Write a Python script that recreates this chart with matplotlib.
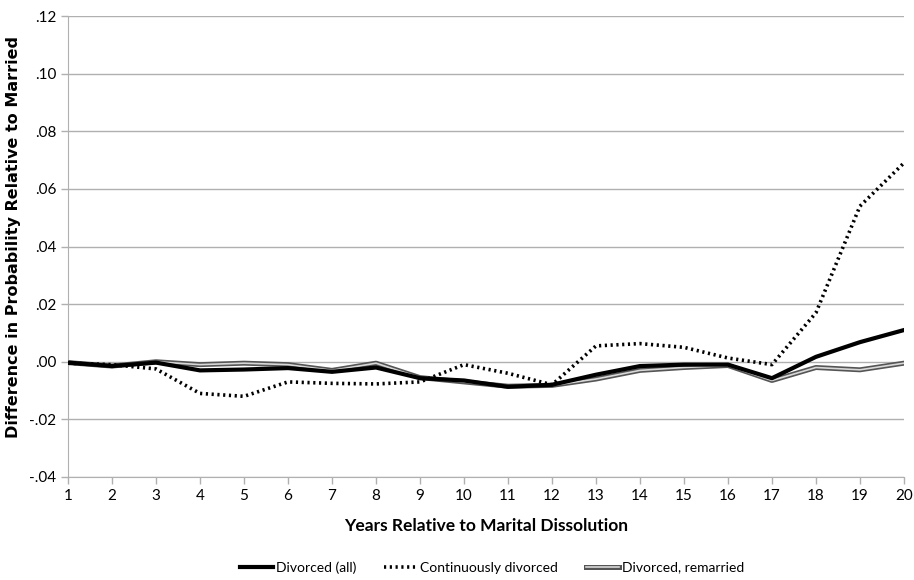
import matplotlib.pyplot as plt
from matplotlib.lines import Line2D

years = list(range(1, 21))

divorced_all = [-0.0003, -0.0015, -0.0003, -0.0030, -0.0027, -0.0022, -0.0035, -0.0020, -0.0057, -0.0065,
                -0.0087, -0.0080, -0.0045, -0.0015, -0.0010, -0.0010, -0.0057, 0.0017, 0.0068, 0.0110]
continuously = [-0.0005, -0.0010, -0.0025, -0.0110, -0.0120, -0.0070, -0.0075, -0.0077, -0.0070, -0.0010,
                -0.0040, -0.0080, 0.0055, 0.0063, 0.0050, 0.0013, -0.0010, 0.0170, 0.0540, 0.0690]
remarried = [-0.0003, -0.0015, 0.0000, -0.0010, -0.0005, -0.0010, -0.0030, -0.0005, -0.0055, -0.0070,
             -0.0085, -0.0082, -0.0060, -0.0030, -0.0020, -0.0013, -0.0065, -0.0020, -0.0028, -0.0005]

y_ticks = [-0.04, -0.02, 0.0, 0.02, 0.04, 0.06, 0.08, 0.10, 0.12]
y_labels = ["-.04", "-.02", ".00", ".02", ".04", ".06", ".08", ".10", ".12"]

fig = plt.figure(figsize=(9.14, 5.8), dpi=100)
ax = fig.add_axes([0.0744, 0.1776, 0.9146, 0.7948])

grid_col = "#b0b0b0"
for t in y_ticks:
    ax.axhline(t, color=grid_col, linewidth=1.0, zorder=0)

# remarried: double line (dark gray outline, light core)
outer_col, inner_col = "#555555", "#d8d8d8"
ax.plot(years, remarried, color=outer_col, linewidth=3.6, zorder=2)
ax.plot(years, remarried, color=inner_col, linewidth=1.2, zorder=3)
ax.plot(years, divorced_all, color="black", linewidth=3.0, zorder=4)
ax.plot(years, continuously, color="black", linewidth=2.6, linestyle=(0, (0.6, 1.0)), zorder=5)

ax.set_xlim(1, 20)
ax.set_ylim(-0.04, 0.12)
ax.set_xticks(years)
ax.set_xticklabels([str(y) for y in years], fontsize=11, family="Lato")
ax.set_yticks(y_ticks)
ax.set_yticklabels(y_labels, fontsize=11, family="Lato")

for side in ["top", "right"]:
    ax.spines[side].set_visible(False)
for side in ["left", "bottom"]:
    ax.spines[side].set_color(grid_col)
ax.tick_params(axis="both", colors=grid_col, labelcolor="black", length=5, width=1.0)

ax.set_xlabel("Years Relative to Marital Dissolution", fontsize=12.5, fontweight="bold",
              family="Lato", labelpad=11)
ax.set_ylabel("Difference in Probability Relative to Married", fontsize=11.5, fontweight="bold",
              family="DejaVu Sans")
ax.yaxis.set_label_coords(-0.056, 0.52)

handles = [
    Line2D([], [], color="black", linewidth=3.0),
    Line2D([], [], color="black", linewidth=2.6, linestyle=(0, (0.6, 1.0))),
    (Line2D([], [], color=outer_col, linewidth=3.6), Line2D([], [], color=inner_col, linewidth=1.2)),
]
labels = ["Divorced (all)", "Continuously divorced", "Divorced, remarried"]
leg = fig.legend(handles, labels, loc="center", bbox_to_anchor=(0.538, 0.022), ncol=3, frameon=False,
                 prop={"family": "Lato", "size": 10}, handlelength=2.4, handletextpad=0.2,
                 columnspacing=2.0)

fig.savefig("out.png", dpi=100)
